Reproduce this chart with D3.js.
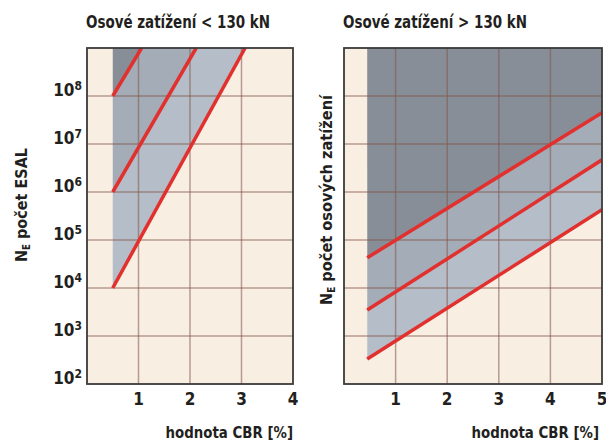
<!DOCTYPE html>
<html lang="cs">
<head>
<meta charset="UTF-8">
<title>CBR vs N_E</title>
<script src="https://d3js.org/d3.v7.min.js"></script>
<style>
  body { margin: 0; background: #fff; }
  svg text {
    font-family: "Liberation Sans Narrow", "DejaVu Sans Condensed", "Arial Narrow", sans-serif;
    font-weight: bold;
    fill: #231f20;
  }
</style>
</head>
<body>
<svg id="chart" width="606" height="446"></svg>
<script>
// ---- data ----
const yExponents = [2, 3, 4, 5, 6, 7, 8, 9];          // log10 of N_E, axis range 10^2 .. 10^9
const leftXTicks = [1, 2, 3, 4];
const rightXTicks = [1, 2, 3, 4, 5];

// red design lines, [CBR, log10 N_E]
const leftLines = [
  [[0.5, 8], [1.06, 9]],
  [[0.5, 6], [2.12, 9]],
  [[0.5, 4], [3.07, 9]]
];
const rightLines = [
  [[0.45, 4.63], [5, 7.65]],
  [[0.45, 3.54], [5, 6.67]],
  [[0.45, 2.52], [5, 5.63]]
];

const titles = ["Osové zatížení < 130 kN", "Osové zatížení > 130 kN"];
const xTitle = "hodnota CBR [%]";

const colors = {
  bg: "#f9eee2",
  dark: "#878e98",
  mid: "#a4acb7",
  light: "#b5bdc8",
  red: "#e1302d",
  grid: "rgba(130,85,75,0.55)",
  frame: "#3a3a3a"
};

const svg = d3.select("#chart");

const yScale = d3.scaleLog().domain([1e2, 1e9]).range([384, 48]);
const ly = e => yScale(Math.pow(10, e));

function panel(opts) {
  const x = d3.scaleLinear().domain([0, opts.xMax]).range([opts.x0, opts.x1]);
  const g = svg.append("g");
  const clipId = "clip" + opts.id;

  svg.append("clipPath").attr("id", clipId)
    .append("rect")
    .attr("x", opts.x0).attr("y", 48)
    .attr("width", opts.x1 - opts.x0).attr("height", 384 - 48);

  g.append("rect")
    .attr("x", opts.x0).attr("y", 48)
    .attr("width", opts.x1 - opts.x0).attr("height", 384 - 48)
    .attr("fill", colors.bg);

  const pg = g.append("g").attr("clip-path", `url(#${clipId})`);
  const poly = pts => pts.map(p => [x(p[0]), ly(p[1])].join(",")).join(" ");

  // shaded zones built from the red lines
  const L = opts.lines;
  const left = L[0][0][0];
  const top = 9;
  let zones;
  if (opts.wide) {
    // lines leave through the right edge
    zones = [
      { fill: colors.dark, pts: [[left, top], [opts.xMax, top], L[0][1], L[0][0]] },
      { fill: colors.mid, pts: [L[0][0], L[0][1], L[1][1], L[1][0]] },
      { fill: colors.light, pts: [L[1][0], L[1][1], L[2][1], L[2][0]] }
    ];
  } else {
    // lines leave through the top edge
    zones = [
      { fill: colors.dark, pts: [[left, top], L[0][1], L[0][0]] },
      { fill: colors.mid, pts: [L[0][0], L[0][1], L[1][1], L[1][0]] },
      { fill: colors.light, pts: [L[1][0], L[1][1], L[2][1], L[2][0]] }
    ];
  }
  pg.selectAll("polygon.zone").data(zones).join("polygon")
    .attr("class", "zone")
    .attr("points", d => poly(d.pts))
    .attr("fill", d => d.fill);

  // grid
  pg.selectAll("line.hg").data(yExponents.slice(1, -1)).join("line")
    .attr("class", "hg")
    .attr("x1", opts.x0).attr("x2", opts.x1)
    .attr("y1", d => ly(d)).attr("y2", d => ly(d))
    .attr("stroke", colors.grid).attr("stroke-width", 1.5);
  pg.selectAll("line.vg").data(opts.xTicks.filter(t => t < opts.xMax)).join("line")
    .attr("class", "vg")
    .attr("y1", 48).attr("y2", 384)
    .attr("x1", d => x(d)).attr("x2", d => x(d))
    .attr("stroke", colors.grid).attr("stroke-width", 1.5);

  // red lines
  pg.selectAll("path.red").data(L).join("path")
    .attr("class", "red")
    .attr("d", d3.line().x(d => x(d[0])).y(d => ly(d[1])))
    .attr("fill", "none")
    .attr("stroke", colors.red)
    .attr("stroke-width", 3.5);

  // frame
  g.append("rect")
    .attr("x", opts.x0).attr("y", 48)
    .attr("width", opts.x1 - opts.x0).attr("height", 384 - 48)
    .attr("fill", "none").attr("stroke", colors.frame).attr("stroke-width", 1.8);

  // x tick labels
  g.selectAll("text.xt").data(opts.xTicks).join("text")
    .attr("class", "xt")
    .attr("x", d => x(d)).attr("y", 405)
    .attr("text-anchor", "middle")
    .attr("font-size", 17)
    .text(d => d);

  // x title, squeezed horizontally to match the condensed face
  g.append("text")
    .attr("transform", `translate(${Math.min(opts.x1, 599)},438) scale(0.9,1)`)
    .attr("text-anchor", "end")
    .attr("font-size", 16.5)
    .text(xTitle);

  // panel title
  g.append("text")
    .attr("x", opts.x0 - 1).attr("y", 28)
    .attr("font-size", 17.5)
    .attr("textLength", 184).attr("lengthAdjust", "spacingAndGlyphs")
    .text(opts.title);

  // y title, rotated
  const yt = g.append("text")
    .attr("transform", `translate(${opts.yTitleX},${opts.yTitleY}) rotate(-90)`)
    .attr("text-anchor", "middle")
    .attr("font-size", 16.5)
    .attr("textLength", opts.yTitleLen).attr("lengthAdjust", "spacingAndGlyphs");
  yt.append("tspan").text("N");
  yt.append("tspan").attr("font-size", 10).attr("dy", 3).text("E");
  yt.append("tspan").attr("dy", -3).text(" " + opts.yTitle);

  return { x, g };
}

const leftP = panel({
  id: "L", x0: 87, x1: 293, xMax: 4, xTicks: leftXTicks, lines: leftLines,
  title: titles[0], yTitle: "počet ESAL", yTitleX: 27, yTitleY: 205, yTitleLen: 114, wide: false
});

panel({
  id: "R", x0: 344, x1: 602, xMax: 5, xTicks: rightXTicks, lines: rightLines,
  title: titles[1], yTitle: "počet osových zatížení", yTitleX: 332, yTitleY: 200, yTitleLen: 210, wide: true
});

// y tick labels on the left panel: 10 with superscript exponent
const yl = leftP.g.selectAll("text.yt").data(yExponents.slice(0, -1)).join("text")
  .attr("class", "yt")
  .attr("x", 82).attr("y", d => ly(d))
  .attr("text-anchor", "end")
  .attr("font-size", 17);
yl.append("tspan").text("10");
yl.append("tspan").attr("font-size", 12).attr("dy", -6).text(d => d);
</script>
</body>
</html>
